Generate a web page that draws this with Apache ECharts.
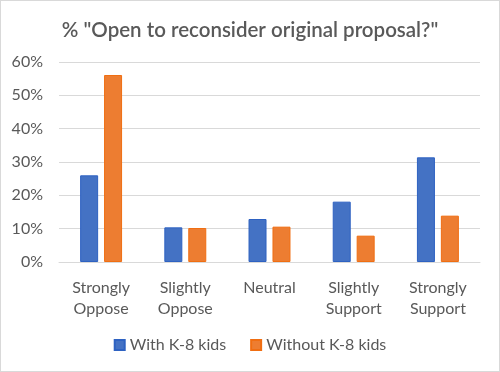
<!DOCTYPE html>
<html><head><meta charset="utf-8">
<script src="https://cdn.jsdelivr.net/npm/echarts@6/dist/echarts.min.js"></script>
<style>html,body{margin:0;padding:0;background:#fff}#c{width:500px;height:372px;box-sizing:border-box;border:1px solid #d9d9d9}</style>
</head><body><div id="c"></div>
<script>
const categories = ["Strongly\nOppose", "Slightly\nOppose", "Neutral", "Slightly\nSupport", "Strongly\nSupport"];
const withKids = [26, 10.4, 12.9, 18.1, 31.4];
const withoutKids = [56.1, 10.2, 10.6, 7.9, 13.9];
const seriesNames = ["With K-8 kids", "Without K-8 kids"];
const titleText = '% "Open to reconsider original proposal?"';

const font = "Lato, 'Open Sans', sans-serif";
const chart = echarts.init(document.getElementById('c'));
chart.setOption({
  animation: false,
  title: { text: titleText, left: 'center', top: 14,
    textStyle: { fontFamily: font, fontSize: 20.5, fontWeight: 600, color: '#595959' } },
  grid: { left: 58, right: 19, top: 61, bottom: 109 },
  legend: { bottom: 13, left: 'center', itemWidth: 10, itemHeight: 10, itemGap: 24,
    icon: 'rect',
    textStyle: { fontFamily: font, fontSize: 16, color: '#595959' },
    data: seriesNames },
  xAxis: { type: 'category', data: categories,
    axisLine: { lineStyle: { color: '#d9d9d9', width: 1 } },
    axisTick: { show: false },
    axisLabel: { fontFamily: font, fontSize: 16, color: '#595959', lineHeight: 21, margin: 15 } },
  yAxis: { type: 'value', min: 0, max: 60, interval: 10,
    axisLabel: { formatter: '{value}%', fontFamily: font, fontSize: 16, color: '#595959', margin: 16 },
    splitLine: { lineStyle: { color: '#d9d9d9', width: 1 } },
    axisLine: { show: false }, axisTick: { show: false } },
  series: [
    { name: seriesNames[0], type: 'bar', data: withKids, barWidth: 18, barGap: '33%',
      itemStyle: { color: '#4472C4', borderColor: '#2E62C2', borderWidth: 1 } },
    { name: seriesNames[1], type: 'bar', data: withoutKids, barWidth: 18,
      itemStyle: { color: '#ED7D31', borderColor: '#F06E12', borderWidth: 1 } }
  ]
});
</script></body></html>
